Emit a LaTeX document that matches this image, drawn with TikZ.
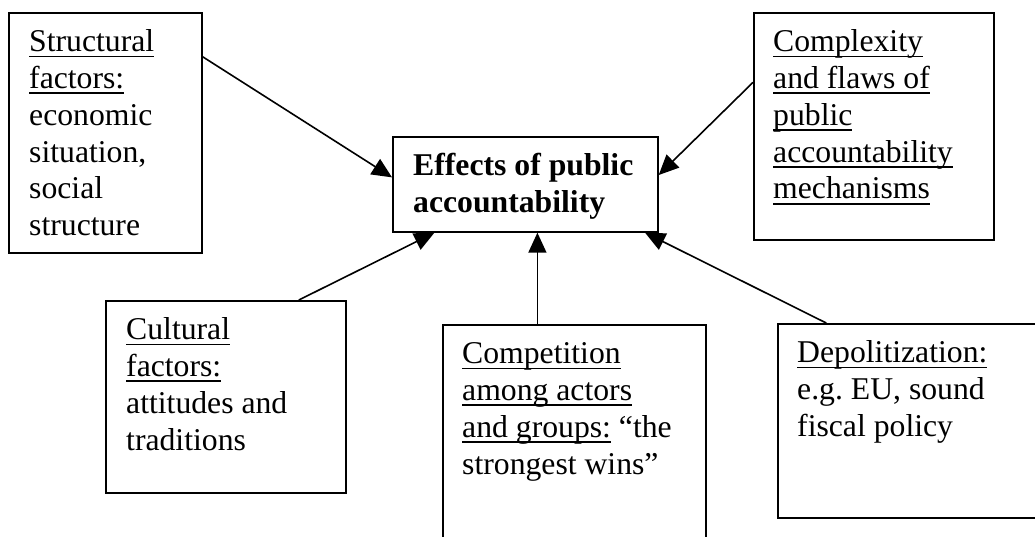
\documentclass[tikz,border=0pt]{standalone}
\usepackage{fontspec}
\setmainfont{Liberation Serif}
\usetikzlibrary{arrows.meta}

% underline that keeps the same depth on every line
\newcommand\uln[1]{\setbox0\hbox{#1}\rlap{\rule[-5.8pt]{\wd0}{1.8pt}}\box0\relax}

\begin{document}
\begin{tikzpicture}[
      x=1pt, y=-1pt,
      mybox/.style={
         draw=black,
         line width=1.7pt,
         fill=white,
         anchor=north west,
         inner sep=0pt},
      mytext/.style={
         anchor=north west,
         align=left,
         inner sep=0pt,
         xshift=21pt,
         yshift=-13.7pt,
         font=\fontsize{31.7}{36.8}\selectfont},
      myarrow/.style={-{Triangle[length=20pt,width=18pt]}, line width=1.6pt}
      ]
      \useasboundingbox (0,0) rectangle (1035,536);
      \clip (0,0) rectangle (1035,536);

      \node[mybox, minimum width=193pt, minimum height=240pt] (struct) at (8,12) {};
      \node[mybox, minimum width=265pt, minimum height=95pt] (effect) at (392,136) {};
      \node[mybox, minimum width=240pt, minimum height=227pt] (complex) at (753,12) {};
      \node[mybox, minimum width=240pt, minimum height=192pt] (cultural) at (105,300) {};
      \node[mybox, minimum width=263pt, minimum height=240pt] (compet) at (442,324) {};
      \node[mybox, minimum width=273pt, minimum height=194pt] (depol) at (777,323) {};

      \node[mytext] (structtxt) at (struct.north west)
         {\strut\uln{Structural}\\ \uln{factors:}\\ economic\\ situation,\\ social\\ structure};
      \node[mytext, font=\fontsize{31.7}{36.8}\selectfont\bfseries] (effecttxt) at (effect.north west)
         {\strut Effects of public\\ accountability};
      \node[mytext, xshift=-1pt] (complextxt) at (complex.north west)
         {\strut\uln{Complexity}\\ \uln{and flaws of}\\ \uln{public}\\ \uln{accountability}\\ \uln{mechanisms}};
      \node[mytext] (culturaltxt) at (cultural.north west)
         {\strut\uln{Cultural}\\ \uln{factors:}\\ attitudes and\\ traditions};
      \node[mytext, xshift=-1pt] (compettxt) at (compet.north west)
         {\strut\uln{Competition}\\ \uln{among actors}\\ \uln{and groups:} “the\\ strongest wins”};
      \node[mytext, xshift=-1pt] (depoltxt) at (depol.north west)
         {\strut\uln{Depolitization:}\\ e.g.\ EU, sound\\ fiscal policy};

    \foreach \i/\j in {% start anchor/end anchor
      struct.38/effect.177,
      complex.160/effect.4,
      cultural.53/effect.208,
      depol.132/effect.338}
       \draw [myarrow] (\i) -- (\j);

     % straight up from the middle box below
     \draw [myarrow] (compet.107) -- (compet.107 |- effect.south);
    \end{tikzpicture}
\end{document}
